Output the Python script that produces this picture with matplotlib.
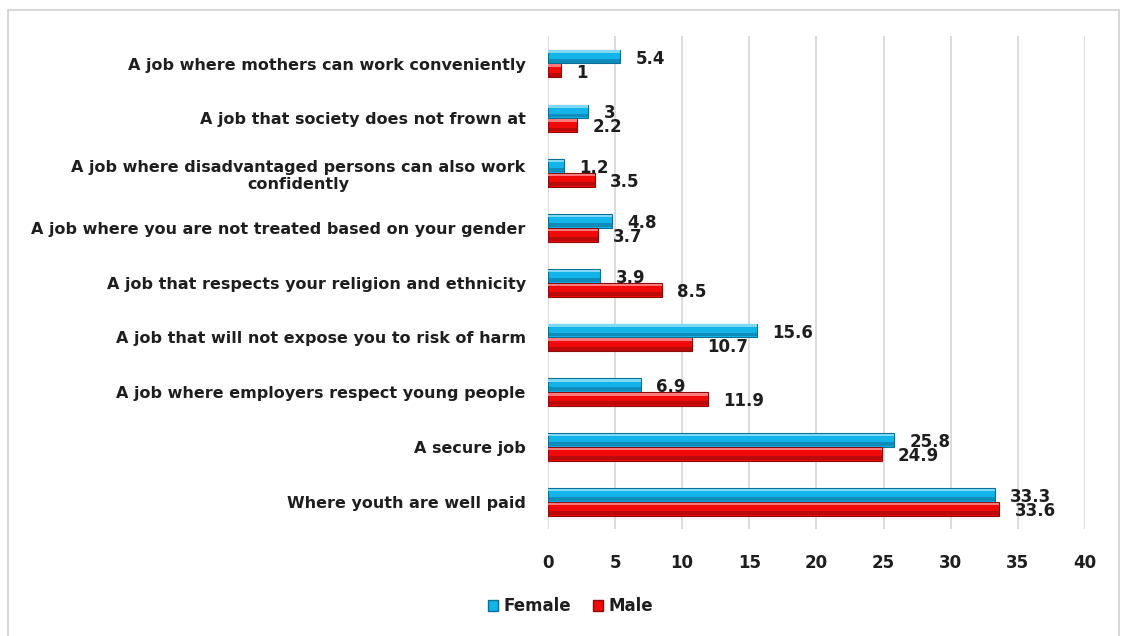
import matplotlib.pyplot as plt
import numpy as np
from matplotlib.patches import Rectangle, Patch

categories = [
    "A job where mothers can work conveniently",
    "A job that society does not frown at",
    "A job where disadvantaged persons can also work\nconfidently",
    "A job where you are not treated based on your gender",
    "A job that respects your religion and ethnicity",
    "A job that will not expose you to risk of harm",
    "A job where employers respect young people",
    "A secure job",
    "Where youth are well paid",
]
female = [5.4, 3, 1.2, 4.8, 3.9, 15.6, 6.9, 25.8, 33.3]
male = [1, 2.2, 3.5, 3.7, 8.5, 10.7, 11.9, 24.9, 33.6]

blue, blue_hi, blue_lo = "#12b4ea", "#7fd9f6", "#0b6e93"
red, red_hi, red_lo = "#f00a0a", "#ff7a7a", "#8e0b0b"
txt = "#1e1e1e"

fig = plt.figure(figsize=(11.25, 6.36), dpi=100)
ax = fig.add_axes([0.487, 0.168, 0.4775, 0.775])

y = np.arange(len(categories))
h = 0.25
off = 0.128


def bevel_bars(ypos, vals, base, hi, lo):
    ax.barh(ypos, vals, height=h, color=base, edgecolor=lo, linewidth=0.8, zorder=3)
    # highlight along the top edge and shade along the bottom edge
    ax.barh(ypos - h * 0.36, vals, height=h * 0.18, color=hi, linewidth=0, zorder=4)
    ax.barh(ypos + h * 0.30, vals, height=h * 0.28, color=lo, alpha=0.55, linewidth=0, zorder=4)


bevel_bars(y - off, female, blue, blue_hi, blue_lo)
bevel_bars(y + off, male, red, red_hi, red_lo)

for yi, v in zip(y, female):
    ax.annotate(f"{v:g}", (v, yi - off), xytext=(11, -1.5), textcoords="offset points",
                ha="left", va="center", fontsize=12, fontweight="bold", color=txt)
for yi, v in zip(y, male):
    ax.annotate(f"{v:g}", (v, yi + off), xytext=(11, -1.5), textcoords="offset points",
                ha="left", va="center", fontsize=12, fontweight="bold", color=txt)

ax.set_xlim(0, 40)
ax.set_ylim(len(categories) - 0.5, -0.5)
ax.set_xticks(range(0, 41, 5))
ax.set_yticks(y)
ax.set_yticklabels(categories, fontsize=11.5, fontweight="bold", color=txt,
                   multialignment="center")
for lab in ax.get_xticklabels():
    lab.set_fontsize(12)
    lab.set_fontweight("bold")
    lab.set_color(txt)
ax.tick_params(axis="both", length=0)
ax.tick_params(axis="x", pad=18)
ax.tick_params(axis="y", pad=16)
ax.grid(axis="x", color="#d9d9d9", linewidth=1.3, zorder=0)
for s in ax.spines.values():
    s.set_visible(False)

handles = [Patch(facecolor=blue, edgecolor=blue_lo), Patch(facecolor=red, edgecolor=red_lo)]
leg = fig.legend(handles, ["Female", "Male"], loc="center", bbox_to_anchor=(0.507, 0.047),
                 ncol=2, frameon=False, handlelength=0.6, handleheight=0.6,
                 handletextpad=0.35, columnspacing=1.3,
                 prop={"size": 12, "weight": "bold"})
for t in leg.get_texts():
    t.set_color(txt)

# chart frame
fig.patches.append(Rectangle((0.007, -0.01), 0.988, 0.995, transform=fig.transFigure,
                             fill=False, edgecolor="#d0d0d0", linewidth=1.2))

fig.savefig("out.png", dpi=100)
